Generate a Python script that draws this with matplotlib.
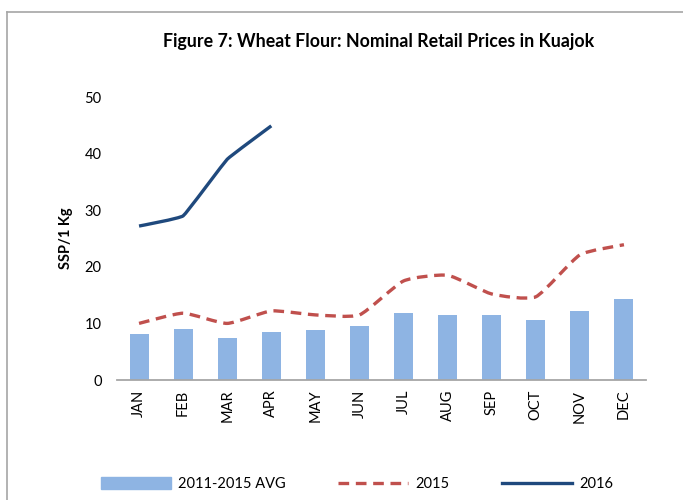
import matplotlib
matplotlib.use("Agg")
import matplotlib.pyplot as plt
from matplotlib.path import Path
from matplotlib.patches import PathPatch, Patch
from matplotlib.lines import Line2D
import numpy as np

plt.rcParams['font.family'] = ['Lato', 'DejaVu Sans']

months = ['JAN', 'FEB', 'MAR', 'APR', 'MAY', 'JUN', 'JUL', 'AUG', 'SEP', 'OCT', 'NOV', 'DEC']
avg_2011_2015 = [8.2, 8.95, 7.5, 8.5, 8.8, 9.5, 11.9, 11.4, 11.4, 10.6, 12.2, 14.3]
prices_2015 = [10.0, 11.8, 10.0, 12.2, 11.5, 11.5, 17.5, 18.5, 15.2, 14.7, 22.1, 23.9]
prices_2016 = [27.2, 29.0, 39.0, 44.9]

bar_color = '#8EB4E3'
red = '#C0504D'
navy = '#1F497D'


def smooth_path(xs, ys, k):
    # smoothed line: cardinal spline segments as cubic beziers, k = tension
    pts = np.column_stack([xs, ys]).astype(float)
    n = len(pts)
    verts = [pts[0]]
    codes = [Path.MOVETO]
    for i in range(n - 1):
        p0 = pts[i - 1] if i > 0 else pts[i]
        p1 = pts[i]
        p2 = pts[i + 1]
        p3 = pts[i + 2] if i + 2 < n else pts[i + 1]
        c1 = p1 + (p2 - p0) * k
        c2 = p2 - (p3 - p1) * k
        verts += [c1, c2, p2]
        codes += [Path.CURVE4] * 3
    return Path(verts, codes)


fig = plt.figure(figsize=(6.83, 5.0), dpi=100)
ax = fig.add_axes([117 / 683, 1 - 380 / 500, 529 / 683, 283 / 500])

x = np.arange(len(months))
ax.bar(x, avg_2011_2015, width=0.43, color=bar_color, zorder=2)

p15 = PathPatch(smooth_path(x, prices_2015, 0.09), fill=False, edgecolor=red, lw=2.4,
                linestyle=(0, (3.2, 2.0)), capstyle='butt', zorder=3)
ax.add_patch(p15)
p16 = PathPatch(smooth_path(x[:len(prices_2016)], prices_2016, 0.04), fill=False,
                edgecolor=navy, lw=2.4, zorder=4)
ax.add_patch(p16)

ax.set_xlim(-0.5, 11.5)
ax.set_ylim(0, 50)
ax.set_yticks([0, 10, 20, 30, 40, 50])
ax.set_xticks(x)
ax.set_xticklabels(months, rotation=90, fontsize=10.5)
ax.tick_params(axis='y', length=0, pad=11, labelsize=10.5)
ax.tick_params(axis='x', length=0, pad=7)
for s in ['top', 'right', 'left']:
    ax.spines[s].set_visible(False)
ax.spines['bottom'].set_color('#A6A6A6')
ax.spines['bottom'].set_linewidth(1.3)
ax.set_ylabel('SSP/1 Kg', fontsize=10.5, fontweight='bold', labelpad=8)

fig.text(379 / 683, 1 - 42 / 500, 'Figure 7: Wheat Flour: Nominal Retail Prices in Kuajok',
         ha='center', va='center', fontsize=12.8, fontweight='bold')

handles = [Patch(color=bar_color),
           Line2D([], [], color=red, lw=2.4, linestyle=(0, (3.2, 2.0))),
           Line2D([], [], color=navy, lw=2.4)]
fig.legend(handles, ['2011-2015 AVG', '2015', '2016'], loc='center',
           bbox_to_anchor=(357 / 683, 16 / 500), ncol=3, frameon=False,
           fontsize=10.5, handlelength=4.8, handleheight=0.9,
           handletextpad=0.5, columnspacing=3.6)

# partial frame around the chart area
fig.add_artist(Line2D([7 / 683, 1], [1 - 12 / 500, 1 - 12 / 500], color='#A6A6A6', lw=1.2))
fig.add_artist(Line2D([7 / 683, 7 / 683], [0, 1 - 12 / 500], color='#A6A6A6', lw=1.2))

fig.savefig('out.png', dpi=100)
